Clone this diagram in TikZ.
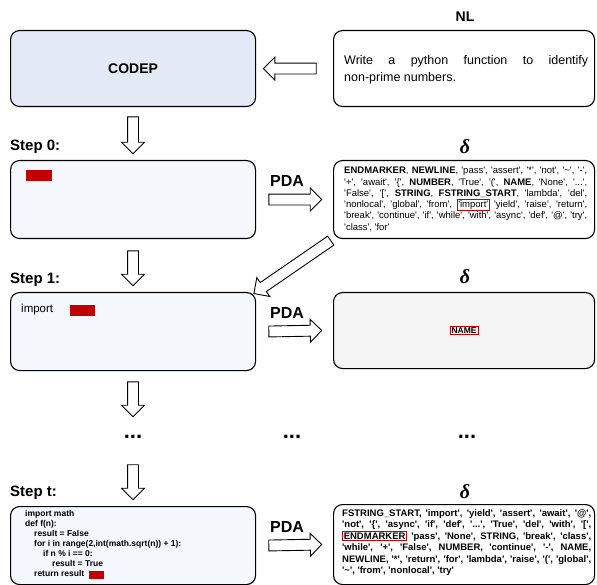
\documentclass[tikz,border=0pt]{standalone}
\usepackage{fontspec}
\setmainfont{Liberation Sans}
\newfontfamily\tokfont{Liberation Sans}[Ligatures=TeXOff]
\newfontfamily\deltafont{Liberation Serif}
\usetikzlibrary{shapes.arrows,calc}
\definecolor{codepfill}{HTML}{E3E9F5}
\definecolor{stepfill}{HTML}{F4F7FC}
\definecolor{dfill}{HTML}{F5F5F5}
\definecolor{tokred}{HTML}{C00000}
\newcommand\redtok[1]{{\setlength{\fboxsep}{0.8pt}\setlength{\fboxrule}{0.8pt}\fcolorbox{tokred}{white}{#1}}}
\newcommand\jline[1]{{\spaceskip=0pt\xspaceskip=0pt\makebox[\linewidth][s]{#1}}\\}
\newcommand\fatarrow[2]{%
  \path let \p1=(#1), \p2=(#2), \n1={atan2(\y2-\y1,\x2-\x1)}, \n2={veclen(\x2-\x1,\y2-\y1)} in
    node[fatarr, minimum height=\n2, rotate=\n1] at ($(#1)!0.5!(#2)$) {};}
\begin{document}
\begin{tikzpicture}[x=1pt,y=-1pt,
  roundbox/.style={draw, line width=1.1pt, rounded corners=9pt, anchor=north west, inner sep=0pt},
  fatarr/.style={single arrow, draw, line width=0.9pt, fill=white, inner xsep=0pt, inner ysep=5pt,
     single arrow head extend=6pt, anchor=center},
  steplabel/.style={font=\fontsize{15}{18}\selectfont\bfseries, anchor=west, inner sep=0pt},
  pdalabel/.style={font=\fontsize{16}{19}\selectfont\bfseries, inner sep=0pt},
  headlabel/.style={font=\fontsize{14}{17}\selectfont\bfseries, inner sep=0pt},
  deltalabel/.style={font=\fontsize{20}{22}\selectfont\deltafont\bfseries\itshape, inner sep=0pt},
  dotslabel/.style={font=\fontsize{22}{24}\selectfont\bfseries, inner sep=0pt},
  redblock/.style={fill=tokred, inner sep=0pt, anchor=north west},
  toktext/.style={anchor=north west, inner sep=0pt, text width=243pt, align=justify,
     font=\fontsize{9.5}{11.3}\selectfont\tokfont},
]
\useasboundingbox (0,0) rectangle (597,585);

% ---------- top row ----------
\node[headlabel] (nllabel) at (465,17) {NL};
\node[roundbox, fill=codepfill, minimum width=245pt, minimum height=76pt] (codep) at (10,30) {};
\node[font=\fontsize{14}{17}\selectfont\bfseries] (codeptext) at (codep.center) {CODEP};
\node[roundbox, fill=white, minimum width=261pt, minimum height=76pt] (nlbox) at (333,30) {};
\node[anchor=west, inner sep=0pt, text width=244pt, align=justify, font=\fontsize{12.5}{17}\selectfont]
  (nltext) at ($(nlbox.west)+(11,1)$) {\jline{Write a python function to identify}non-prime numbers.};
\coordinate (a0s) at ($(nlbox.west)+(-14,0)$);
\coordinate (a0e) at ($(codep.east)+(10,0)$);
\fatarrow{a0s}{a0e}

% ---------- step 0 ----------
\node[steplabel] (s0label) at (10,147) {Step 0:};
\node[roundbox, fill=stepfill, minimum width=245pt, minimum height=78pt] (s0) at (10,160) {};
\node[redblock, minimum width=26pt, minimum height=11pt] (s0red) at (26,170) {};
\node[deltalabel] (d0label) at (465,147) {δ};
\node[roundbox, fill=white, minimum width=261pt, minimum height=78pt] (d0) at (333,160) {};
\node[toktext] (d0text) at ($(d0.north west)+(11,7)$) {%
\jline{\textbf{ENDMARKER}, \textbf{NEWLINE}, 'pass', 'assert', '*', 'not', '\textasciitilde', '-',}
\jline{'+', 'await', '\{', \textbf{NUMBER}, 'True', '(', \textbf{NAME}, 'None', '...',}
\jline{'False', '[', \textbf{STRING}, \textbf{FSTRING\_START}, 'lambda', 'del',}
\jline{'nonlocal', 'global', 'from', \redtok{'import'} 'yield', 'raise', 'return',}
\jline{'break', 'continue', 'if', 'while', 'with', 'async', 'def', '@', 'try',}
'class', 'for'};
\node[pdalabel] (pda0) at (287,181) {PDA};
\coordinate (a1s) at ($(s0.east)+(10,0)$);
\coordinate (a1e) at ($(d0.west)+(-14,0)$);
\fatarrow{a1s}{a1e}
\coordinate (a2s) at ($(codep.south)+(0,7)$);
\coordinate (a2e) at ($(s0.north)+(0,-9)$);
\fatarrow{a2s}{a2e}

% ---------- step 1 ----------
\node[steplabel] (s1label) at (10,280) {Step 1:};
\node[roundbox, fill=stepfill, minimum width=245pt, minimum height=78pt] (s1) at (10,292) {};
\node[anchor=west, inner sep=0pt, font=\fontsize{11.5}{14}\selectfont] (s1text) at (21,310) {import};
\node[redblock, minimum width=25pt, minimum height=11pt] (s1red) at (70,304.5) {};
\node[deltalabel] (d1label) at (465,277) {δ};
\node[roundbox, fill=dfill, minimum width=261pt, minimum height=76pt] (d1) at (333,292) {};
\node[inner sep=0pt, font=\fontsize{8.5}{10}\selectfont\bfseries] (d1text) at (d1.center)
  {{\setlength{\fboxsep}{1pt}\setlength{\fboxrule}{0.8pt}\fcolorbox{tokred}{dfill}{NAME}}};
\node[pdalabel] (pda1) at (287,313) {PDA};
\coordinate (a3s) at ($(s1.east)+(10,0)$);
\coordinate (a3e) at ($(d1.west)+(-14,0)$);
\fatarrow{a3s}{a3e}
\coordinate (a4s) at ($(s0.south)+(0,9)$);
\coordinate (a4e) at ($(s1.north)+(0,-9)$);
\fatarrow{a4s}{a4e}
\fatarrow{d0.south west}{s1.north east}

% ---------- dots ----------
\node[dotslabel] (dots1) at (133,437) {...};
\node[dotslabel] (dots2) at (292,437) {...};
\node[dotslabel] (dots3) at (467,437) {...};
\coordinate (a5s) at ($(s1.south)+(0,8)$);
\coordinate (a5e) at (133,414);
\fatarrow{a5s}{a5e}

% ---------- step t ----------
\node[steplabel] (stlabel) at (10,493) {Step t:};
\node[roundbox, fill=stepfill, minimum width=245pt, minimum height=78pt] (st) at (10,506) {};
\node[anchor=north west, inner sep=0pt, align=left, font=\fontsize{8.5}{10.1}\selectfont\bfseries]
  (sttext) at (25,510) {import math\\
def f(n):\\
\hspace*{9pt}result = False\\
\hspace*{9pt}for i in range(2,int(math.sqrt(n)) + 1):\\
\hspace*{18pt}if n \% i == 0:\\
\hspace*{27pt}result = True\\
\hspace*{9pt}return result};
\node[redblock, minimum width=15pt, minimum height=8pt] (stred) at (89,571) {};
\node[deltalabel] (dtlabel) at (465,492) {δ};
\node[roundbox, fill=white, minimum width=261pt, minimum height=80pt] (dt) at (333,504) {};
\node[toktext, text width=249pt, font=\fontsize{9.5}{11.5}\selectfont\tokfont\bfseries] (dttext) at ($(dt.north west)+(9,5)$) {%
\jline{FSTRING\_START, 'import', 'yield', 'assert', 'await', '@',}
\jline{'not', '\{', 'async', 'if', 'def', '...', 'True', 'del', 'with', '[',}
\jline{\redtok{ENDMARKER} 'pass', 'None', STRING, 'break', 'class',}
\jline{'while', '+', 'False', NUMBER, 'continue', '-', NAME,}
\jline{NEWLINE, '*', 'return', 'for', 'lambda', 'raise', '(', 'global',}
'\textasciitilde', 'from', 'nonlocal', 'try'};
\node[pdalabel] (pdat) at (287,527) {PDA};
\coordinate (a6s) at ($(st.east)+(10,0)$);
\coordinate (a6e) at ($(dt.west)+(-14,0)$);
\fatarrow{a6s}{a6e}
\coordinate (a7s) at (133,462);
\coordinate (a7e) at ($(st.north)+(0,-9)$);
\fatarrow{a7s}{a7e}
\end{tikzpicture}
\end{document}
